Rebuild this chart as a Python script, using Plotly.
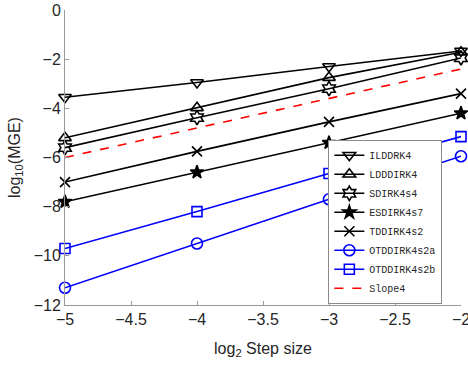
import plotly.graph_objects as go

# log2 step size
x = [-5, -4, -3, -2]

# log10(MGE) per scheme
ilddrk4 = [-3.55, -2.95, -2.3, -1.67]
ldddirk4 = [-5.2, -3.98, -2.75, -1.72]
sdirk4s4 = [-5.6, -4.38, -3.2, -1.95]
esdirk4s7 = [-7.8, -6.6, -5.4, -4.2]
tddirk4s2 = [-7.0, -5.75, -4.55, -3.4]
otddirk4s2a = [-11.3, -9.5, -7.7, -5.95]
otddirk4s2b = [-9.7, -8.2, -6.65, -5.15]

slope_x = [-5, -2]
slope4 = [-6.0, -2.4]

series = [
    ("ILDDRK4", ilddrk4, "black", "triangle-down-open", 11),
    ("LDDDIRK4", ldddirk4, "black", "triangle-up-open", 11),
    ("SDIRK4s4", sdirk4s4, "black", "hexagram-open", 11),
    ("ESDIRK4s7", esdirk4s7, "black", "star", 10),
    ("TDDIRK4s2", tddirk4s2, "black", "x-thin-open", 10),
    ("OTDDIRK4s2a", otddirk4s2a, "blue", "circle-open", 11),
    ("OTDDIRK4s2b", otddirk4s2b, "blue", "square-open", 10),
]

fig = go.Figure()
for name, vals, col, sym, sz in series:
    fig.add_trace(go.Scatter(
        x=x, y=vals, name=name, mode="lines+markers",
        line=dict(color=col, width=1.6),
        marker=dict(symbol=sym, size=sz, color=col,
                    line=dict(color=col, width=1.6)),
        cliponaxis=False,
    ))

fig.add_trace(go.Scatter(
    x=slope_x, y=slope4, name="Slope4", mode="lines",
    line=dict(color="red", width=1.6, dash="dash"),
))

axis_common = dict(
    showline=True, linecolor="#9a9a9a", linewidth=1,
    ticks="inside", ticklen=4, tickcolor="#9a9a9a",
    showgrid=False, zeroline=False, mirror=False, automargin=False,
    ticklabeloverflow="allow",
    tickfont=dict(family="Liberation Sans", size=16, color="#262626"),
)

fig.update_xaxes(
    range=[-5, -2], dtick=0.5, tick0=-5,
    title=dict(text="log<sub>2</sub> Step size",
               font=dict(family="Liberation Sans", size=16, color="#262626")),
    **axis_common,
)
fig.update_yaxes(range=[-12, 0], dtick=2, tick0=0, **axis_common)

# y title as an annotation so it can sit a little closer to the tick labels
fig.add_annotation(
    text="log<sub>10</sub>(MGE)", textangle=-90, showarrow=False,
    xref="paper", yref="paper", x=-0.125, y=0.5,
    xanchor="center", yanchor="middle",
    font=dict(family="Liberation Sans", size=16, color="#262626"),
)

fig.update_layout(
    width=468, height=365,
    margin=dict(l=65, r=7, t=10, b=60),
    plot_bgcolor="white", paper_bgcolor="white",
    showlegend=True,
    legend=dict(
        x=0.665, y=0.56, xanchor="left", yanchor="top",
        bgcolor="white", bordercolor="#8a8a8a", borderwidth=1,
        font=dict(family="Liberation Mono", size=10, color="#262626"),
        tracegroupgap=0, itemwidth=30,
    ),
)

# drop the default body margin so the figure sits at the page corner
fig.write_html("out.html", config={"displayModeBar": False},
               post_script="document.body.style.margin='0';")
